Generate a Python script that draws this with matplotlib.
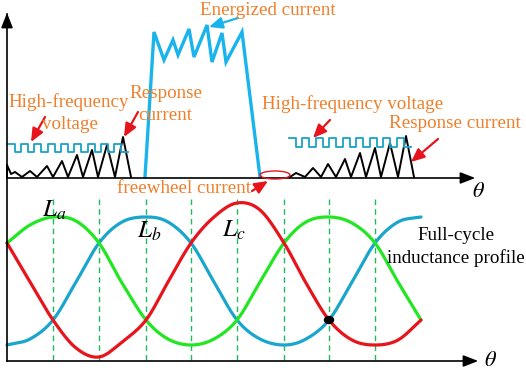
import numpy as np
import matplotlib
matplotlib.use("Agg")
import matplotlib.pyplot as plt
from matplotlib.patches import Ellipse

plt.rcParams['font.family'] = ['Liberation Serif', 'DejaVu Serif']
plt.rcParams['mathtext.fontset'] = 'stix'

# ---------------- data (picture coordinates) ----------------
# Energized current (blue) vertices
energ_x = [145, 154, 164, 173, 178, 189, 194, 207, 212, 222, 226, 242, 260]
energ_y = [177, 32, 60, 40, 55, 29, 57, 25, 62, 33, 62, 32, 177]

# Left response current (black zigzag)
resp_l_x = [7, 7, 11, 15, 22, 30, 37, 47, 53, 62, 68, 77, 83, 92, 98, 107, 115, 123, 131]
resp_l_y = [177, 165, 174, 172, 177, 171, 177, 166, 177, 161, 177, 155, 177, 150, 177, 145, 177, 137, 177]

# Right response current (black zigzag)
resp_r_x = [290, 296, 305, 313, 321, 328, 336, 345, 351, 360, 366, 375, 381, 390, 398, 406, 414]
resp_r_y = [177, 173, 177, 168, 177, 164, 177, 159, 177, 153, 177, 148, 177, 143, 177, 136, 177]

# High-frequency voltage square waves: edge positions and levels
hf_l_edges = [8, 15, 21, 28, 34, 41, 48, 55, 61, 68, 74, 81, 88, 95, 101, 108, 114, 121, 128]
hf_l_levels = (144, 152)
hf_r_edges = [289, 296, 302, 309, 316, 323, 329, 336, 343, 350, 356, 363, 370, 377, 383, 390, 397, 404, 411]
hf_r_levels = (138, 147)

# Full-cycle inductance profiles (sampled)
theta_x = [7, 30, 53, 76, 99, 122, 146, 168, 191, 214, 237, 260, 284, 306, 329, 352, 375, 398, 421]
L_green = [243, 225, 217, 221, 243, 283, 320, 339, 345, 339, 320, 282, 243, 222, 217, 223, 243, 282, 320]
L_blue = [345, 339, 320, 282, 243, 222, 217, 222, 243, 282, 320, 339, 345, 339, 320, 282, 243, 222, 217]
L_red = [243, 282, 320, 348, 357, 342, 320, 282, 243, 217, 203, 210, 243, 283, 320, 340, 345, 340, 320]

dash_x = [53, 99, 146, 191, 237, 284, 329, 375]

# ---------------- helpers ----------------
def catmull(xs, ys, n=20):
    xs = np.asarray(xs, float); ys = np.asarray(ys, float)
    P = np.column_stack([xs, ys])
    P = np.vstack([2 * P[0] - P[1], P, 2 * P[-1] - P[-2]])
    out = []
    t = np.linspace(0, 1, n, endpoint=False)[:, None]
    for i in range(1, len(P) - 2):
        p0, p1, p2, p3 = P[i - 1], P[i], P[i + 1], P[i + 2]
        seg = 0.5 * ((2 * p1) + (-p0 + p2) * t + (2 * p0 - 5 * p1 + 4 * p2 - p3) * t ** 2
                     + (-p0 + 3 * p1 - 3 * p2 + p3) * t ** 3)
        out.append(seg)
    out.append(P[-2][None, :])
    out = np.vstack(out)
    return out[:, 0], out[:, 1]

def square(edges, levels):
    xs, ys = [], []
    hi, lo = levels
    for i in range(len(edges) - 1):
        lev = hi if i % 2 == 0 else lo
        xs += [edges[i], edges[i + 1]]
        ys += [lev, lev]
    return xs, ys

ORANGE = '#F07F2A'
RED = '#E8141B'
SKY = '#19B4EC'
TEAL = '#1BA3C6'
GREEN = '#22E622'
LBLUE = '#1AA5CC'
DASH = '#22B860'

fig = plt.figure(figsize=(5.26, 3.71), dpi=100)
ax = fig.add_axes([0, 0, 1, 1])
ax.set_xlim(0, 526)
ax.set_ylim(371, 0)
ax.axis('off')

# axes
ax.plot([7, 7], [361, 14], color='black', lw=1.2, zorder=5)
ax.annotate('', xy=(7, 10), xytext=(7, 30),
            arrowprops=dict(arrowstyle='-|>,head_length=0.9,head_width=0.35', color='black', lw=1.2))
ax.plot([7, 470], [178, 178], color='black', lw=1.2, zorder=5)
ax.annotate('', xy=(478, 178), xytext=(460, 178),
            arrowprops=dict(arrowstyle='-|>,head_length=0.9,head_width=0.35', color='black', lw=1.2))
ax.plot([7, 472], [361, 361], color='black', lw=1.2, zorder=5)
ax.annotate('', xy=(481, 361), xytext=(462, 361),
            arrowprops=dict(arrowstyle='-|>,head_length=0.9,head_width=0.35', color='black', lw=1.2))
ax.text(478, 197, r'$\theta$', fontsize=16, ha='center', va='baseline')
ax.text(491, 366, r'$\theta$', fontsize=16, ha='center', va='baseline')

# top panel waveforms
ax.plot(energ_x, energ_y, color=SKY, lw=2.4, solid_joinstyle='miter')
ax.plot(resp_l_x, resp_l_y, color='black', lw=1.4)
ax.plot(resp_r_x, resp_r_y, color='black', lw=1.4)
x, y = square(hf_l_edges, hf_l_levels)
ax.plot(x, y, color=TEAL, lw=1.3)
x, y = square(hf_r_edges, hf_r_levels)
ax.plot(x, y, color=TEAL, lw=1.3)

ax.add_patch(Ellipse((275, 175), 30, 8, fill=False, edgecolor=RED, lw=1.0, zorder=6))

def arrow(x0, y0, x1, y1, color):
    ax.annotate('', xy=(x1, y1), xytext=(x0, y0),
                arrowprops=dict(arrowstyle='-|>,head_length=0.8,head_width=0.35',
                                color=color, lw=1.6, shrinkA=0, shrinkB=0))

arrow(45, 117, 31, 142, RED)
arrow(138, 112, 124, 137, RED)
arrow(330, 120, 313, 138, RED)
arrow(438, 139, 411, 162, RED)
arrow(252, 191, 268, 181, RED)
arrow(238, 18, 209, 27, SKY)

fs = 13.7
ax.text(200, 15, 'Energized current', color=ORANGE, fontsize=fs, va='baseline')
ax.text(8, 107, 'High-frequency', color=ORANGE, fontsize=fs, va='baseline')
ax.text(42, 129, 'voltage', color=ORANGE, fontsize=fs, va='baseline')
ax.text(129, 98, 'Response', color=ORANGE, fontsize=fs, va='baseline')
ax.text(138, 120, 'current', color=ORANGE, fontsize=fs, va='baseline')
ax.text(262, 109, 'High-frequency voltage', color=ORANGE, fontsize=fs, va='baseline')
ax.text(389, 128, 'Response current', color=ORANGE, fontsize=fs, va='baseline')
ax.text(117, 193, 'freewheel current', color=ORANGE, fontsize=fs, va='baseline')

# bottom panel
for dx in dash_x:
    ax.plot([dx, dx], [199, 360], color=DASH, lw=1.0, ls=(0, (4, 3)))

for ys, c in [(L_blue, LBLUE), (L_green, GREEN), (L_red, RED)]:
    sx, sy = catmull(theta_x, ys)
    ax.plot(sx, sy, color=c, lw=2.3, solid_capstyle='round')

ax.add_patch(Ellipse((329, 320), 9, 7, color='black', zorder=7))

ax.text(42, 217, r'$L_{\mathit{a}}$', fontsize=18, va='baseline')
ax.text(137, 238, r'$L_{\mathit{b}}$', fontsize=18, va='baseline')
ax.text(222, 237, r'$L_{\mathit{c}}$', fontsize=18, va='baseline')
ax.text(417, 240, 'Full-cycle', color='black', fontsize=fs, va='baseline')
ax.text(387, 263, 'inductance profile', color='black', fontsize=fs, va='baseline')

fig.savefig('out.png', dpi=100)
